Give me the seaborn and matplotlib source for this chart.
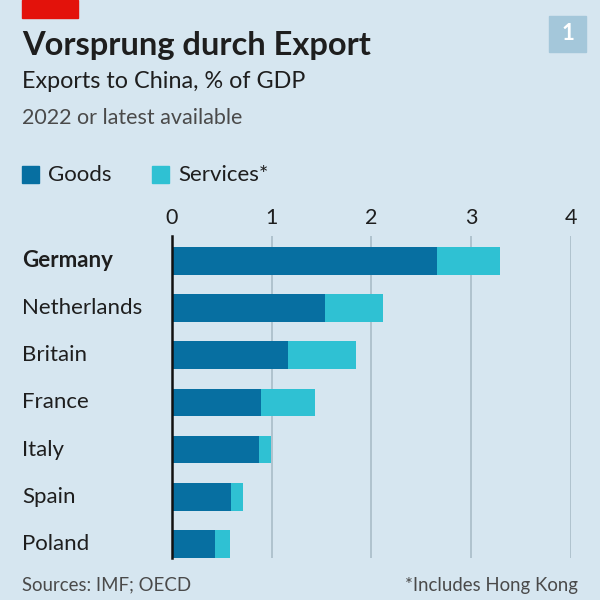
import matplotlib
matplotlib.use("Agg")
import matplotlib.pyplot as plt
import matplotlib.transforms as mtransforms
from matplotlib.patches import Rectangle
import seaborn as sns
import pandas as pd

countries = ["Germany", "Netherlands", "Britain", "France", "Italy", "Spain", "Poland"]
goods = [2.66, 1.54, 1.17, 0.89, 0.87, 0.59, 0.43]
services = [0.63, 0.58, 0.68, 0.55, 0.12, 0.12, 0.15]
xticks = [0, 1, 2, 3, 4]

BG = "#d6e6f0"
GOODS_C = "#076fa1"
SERV_C = "#2fc1d3"
GRID_C = "#a9bcc8"
TEXT_C = "#1e1e1e"
GREY_T = "#4a4a4a"

sns.set_style("white")
plt.rcParams["font.family"] = ["Lato", "DejaVu Sans"]

df = pd.DataFrame({"country": countries, "goods": goods, "services": services})
df["total"] = df["goods"] + df["services"]

fig = plt.figure(figsize=(6, 6), dpi=100, facecolor=BG)
ax = fig.add_axes([171.7 / 600, 1 - 558 / 600, (571 - 171.7) / 600, (558 - 236) / 600])
ax.set_facecolor(BG)

sns.barplot(data=df, y="country", x="total", orient="h", color=SERV_C,
            width=0.59, ax=ax, saturation=1, zorder=3)
sns.barplot(data=df, y="country", x="goods", orient="h", color=GOODS_C,
            width=0.59, ax=ax, saturation=1, zorder=4)
for p in ax.patches:
    p.set_edgecolor("none")

ax.set_xlim(0, 4)
ax.set_ylim(6.3, -0.53)
ax.set_xticks(xticks)
ax.set_xticklabels([str(t) for t in xticks])
ax.xaxis.tick_top()
ax.tick_params(axis="x", length=0, pad=6, labelsize=15.5, labelcolor=TEXT_C)
ax.grid(axis="x", color=GRID_C, linewidth=1.2, zorder=0)
ax.set_axisbelow(True)
ax.set_xlabel("")
ax.set_ylabel("")
ax.set_yticks([])
for s in ["top", "right", "bottom"]:
    ax.spines[s].set_visible(False)
ax.spines["left"].set_color("#111111")
ax.spines["left"].set_linewidth(1.8)
ax.spines["left"].set_zorder(6)

trans = mtransforms.blended_transform_factory(fig.transFigure, ax.transData)
for i, c in enumerate(countries):
    ax.text(22 / 600, i, c, transform=trans, ha="left", va="center",
            fontsize=16, color=TEXT_C, fontweight="bold" if i == 0 else "normal")

# header
fig.patches.append(Rectangle((22 / 600, 1 - 18 / 600), 56 / 600, 18 / 600,
                             transform=fig.transFigure, color="#e3120b", zorder=1))
fig.patches.append(Rectangle((549 / 600, 1 - 52 / 600), 37 / 600, 36 / 600,
                             transform=fig.transFigure, color="#a4c7da", zorder=1))
fig.text(567.5 / 600, 1 - 34 / 600, "1", ha="center", va="center", color="white",
         fontsize=16, fontweight="bold", zorder=10)
fig.text(22 / 600, 1 - 45 / 600, "Vorsprung durch Export", ha="left", va="center",
         fontsize=23.5, fontweight="bold", color=TEXT_C)
fig.text(22 / 600, 1 - 81 / 600, "Exports to China, % of GDP", ha="left", va="center",
         fontsize=16.8, color=TEXT_C)
fig.text(22 / 600, 1 - 118 / 600, "2022 or latest available", ha="left", va="center",
         fontsize=15.5, color=GREY_T)

# legend
fig.patches.append(Rectangle((22 / 600, 1 - 183 / 600), 17 / 600, 17 / 600,
                             transform=fig.transFigure, color=GOODS_C))
fig.text(48 / 600, 1 - 175 / 600, "Goods", ha="left", va="center", fontsize=16, color=TEXT_C)
fig.patches.append(Rectangle((152 / 600, 1 - 183 / 600), 17 / 600, 17 / 600,
                             transform=fig.transFigure, color=SERV_C))
fig.text(178 / 600, 1 - 175 / 600, "Services*", ha="left", va="center", fontsize=16, color=TEXT_C)

# footer
fig.text(22 / 600, 1 - 585 / 600, "Sources: IMF; OECD", ha="left", va="center",
         fontsize=13.4, color=GREY_T)
fig.text(578 / 600, 1 - 585 / 600, "*Includes Hong Kong", ha="right", va="center",
         fontsize=13.4, color=GREY_T)

fig.savefig("out.png", dpi=100, facecolor=BG)
